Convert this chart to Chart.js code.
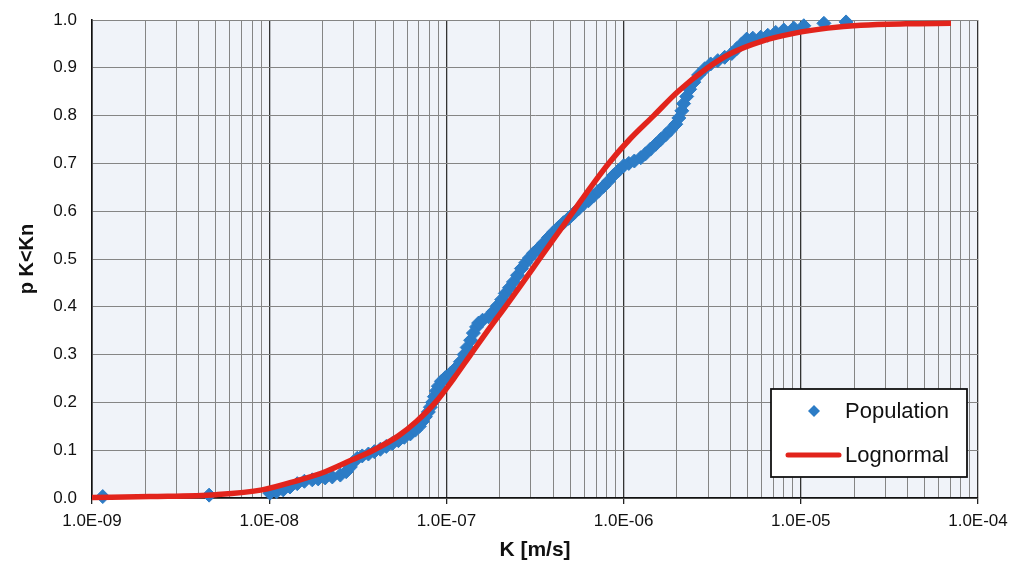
<!DOCTYPE html>
<html>
<head>
<meta charset="utf-8">
<script src="https://cdn.jsdelivr.net/npm/chart.js@4"></script>
<style>
  html, body { margin: 0; padding: 0; background: #fff; }
  #wrap { width: 1012px; height: 567px; }
</style>
</head>
<body>
<div id="wrap"><canvas id="cdf" width="1012" height="567"></canvas></div>
<script>
// ---------- Data ----------
// Population: sorted K [m/s] and cumulative probability
const popK = [
  1.15e-9, 4.58e-9, 1.01e-8, 1.10e-8, 1.20e-8, 1.31e-8, 1.44e-8, 1.58e-8, 1.75e-8, 1.89e-8,
  2.07e-8, 2.27e-8, 2.52e-8, 2.72e-8, 2.87e-8, 2.98e-8, 3.14e-8, 3.35e-8, 3.63e-8, 3.92e-8,
  4.24e-8, 4.58e-8, 4.95e-8, 5.36e-8, 5.79e-8, 6.26e-8, 6.68e-8, 7.04e-8, 7.32e-8, 7.61e-8,
  7.91e-8, 8.12e-8, 8.34e-8, 8.56e-8, 8.78e-8, 9.01e-8, 9.37e-8, 9.87e-8, 1.05e-7, 1.12e-7,
  1.20e-7, 1.26e-7, 1.31e-7, 1.37e-7, 1.42e-7, 1.48e-7, 1.52e-7, 1.60e-7, 1.73e-7, 1.84e-7,
  1.94e-7, 2.05e-7, 2.15e-7, 2.27e-7, 2.39e-7, 2.52e-7, 2.65e-7, 2.80e-7, 2.94e-7, 3.10e-7,
  3.31e-7, 3.53e-7, 3.77e-7, 4.02e-7, 4.29e-7, 4.58e-7, 4.89e-7, 5.22e-7, 5.57e-7, 5.94e-7,
  6.34e-7, 6.77e-7, 7.22e-7, 7.71e-7, 8.23e-7, 8.78e-7, 9.37e-7, 1.00e-6, 1.07e-6, 1.15e-6,
  1.25e-6, 1.33e-6, 1.42e-6, 1.52e-6, 1.62e-6, 1.73e-6, 1.84e-6, 1.97e-6, 2.05e-6, 2.13e-6,
  2.18e-6, 2.27e-6, 2.36e-6, 2.49e-6, 2.65e-6, 2.87e-6, 3.10e-6, 3.40e-6, 3.72e-6, 4.08e-6,
  4.35e-6, 4.64e-6, 4.95e-6, 5.36e-6, 5.94e-6, 6.51e-6, 7.22e-6, 8.02e-6, 9.13e-6, 1.04e-5,
  1.35e-5, 1.80e-5
];
const popP = [
  0.003, 0.006, 0.010, 0.013, 0.017, 0.023, 0.030, 0.035, 0.038, 0.040,
  0.042, 0.044, 0.048, 0.055, 0.065, 0.075, 0.083, 0.088, 0.092, 0.097,
  0.102, 0.108, 0.114, 0.120, 0.127, 0.134, 0.142, 0.150, 0.160, 0.170,
  0.180, 0.190, 0.200, 0.212, 0.224, 0.234, 0.244, 0.252, 0.260, 0.270,
  0.285, 0.300, 0.315, 0.330, 0.345, 0.358, 0.366, 0.372, 0.379, 0.390,
  0.402, 0.415, 0.428, 0.440, 0.452, 0.466, 0.480, 0.492, 0.502, 0.512,
  0.522, 0.533, 0.545, 0.556, 0.566, 0.576, 0.585, 0.595, 0.605, 0.615,
  0.622, 0.632, 0.642, 0.652, 0.663, 0.675, 0.685, 0.695, 0.700, 0.705,
  0.712, 0.720, 0.730, 0.740, 0.750, 0.760, 0.770, 0.782, 0.795, 0.810,
  0.825, 0.840, 0.855, 0.870, 0.885, 0.898, 0.908, 0.915, 0.922, 0.930,
  0.940, 0.950, 0.960, 0.962, 0.964, 0.968, 0.974, 0.979, 0.983, 0.988,
  0.993, 0.996
];

// Lognormal fit curve
const lognK = [
  1.0e-9, 2.13e-9, 5.02e-9, 9.13e-9, 1.40e-8, 2.07e-8, 2.94e-8, 3.87e-8, 5.36e-8, 6.77e-8,
  8.67e-8, 1.10e-7, 1.37e-7, 1.71e-7, 2.15e-7, 2.69e-7, 3.35e-7, 4.18e-7, 5.22e-7, 6.51e-7,
  8.23e-7, 1.08e-6, 1.48e-6, 2.02e-6, 2.98e-6, 4.02e-6, 5.94e-6, 9.13e-6, 1.42e-5, 2.18e-5,
  3.92e-5, 7.04e-5
];
const lognP = [
  0.001, 0.003, 0.007, 0.017, 0.035, 0.055, 0.080, 0.100, 0.130, 0.160,
  0.200, 0.250, 0.300, 0.350, 0.400, 0.450, 0.500, 0.550, 0.600, 0.650,
  0.700, 0.750, 0.800, 0.850, 0.900, 0.930, 0.955, 0.972, 0.983, 0.989,
  0.992, 0.993
];

// Axis ticks
const xMajorTicks = [1e-9, 1e-8, 1e-7, 1e-6, 1e-5, 1e-4];
const xTickLabels = ["1.0E-09", "1.0E-08", "1.0E-07", "1.0E-06", "1.0E-05", "1.0E-04"];
const xMinorSteps = [2, 3, 4, 5, 6, 7, 8, 9];

const BLUE = "#2c7cc6";
const RED = "#e2241c";
const FONT = "'Liberation Sans', Arial, sans-serif";

function majorIndex(v) {
  return xMajorTicks.findIndex(m => Math.abs(v / m - 1) < 1e-6);
}

const xGridValues = [];
xMajorTicks.forEach((m, i) => {
  xGridValues.push(m);
  if (i < xMajorTicks.length - 1) xMinorSteps.forEach(s => xGridValues.push(m * s));
});

// ---------- Plugins ----------
const plotBackground = {
  id: "plotBackground",
  beforeDraw(chart) {
    const { ctx, chartArea: a } = chart;
    ctx.save();
    ctx.fillStyle = "#f0f3f9";
    ctx.fillRect(a.left, a.top, a.right - a.left, a.bottom - a.top);
    ctx.restore();
  }
};

const boxLegend = {
  id: "boxLegend",
  afterDraw(chart) {
    const ctx = chart.ctx;
    const x = 771, y = 389, w = 196, h = 88;
    ctx.save();
    ctx.fillStyle = "#fff";
    ctx.fillRect(x, y, w, h);
    ctx.strokeStyle = "#111";
    ctx.lineWidth = 1.8;
    ctx.strokeRect(x, y, w, h);

    // diamond
    ctx.fillStyle = BLUE;
    ctx.beginPath();
    ctx.moveTo(814, 405); ctx.lineTo(820, 411); ctx.lineTo(814, 417); ctx.lineTo(808, 411);
    ctx.closePath();
    ctx.fill();

    // red line
    ctx.strokeStyle = RED;
    ctx.lineWidth = 5;
    ctx.lineCap = "round";
    ctx.beginPath();
    ctx.moveTo(788, 455); ctx.lineTo(839, 455);
    ctx.stroke();

    ctx.fillStyle = "#111";
    ctx.font = "22px " + FONT;
    ctx.textBaseline = "middle";
    ctx.textAlign = "left";
    ctx.fillText("Population", 845, 412);
    ctx.fillText("Lognormal", 845, 456);
    ctx.restore();
  }
};

// ---------- Chart ----------
new Chart(document.getElementById("cdf"), {
  type: "scatter",
  data: {
    datasets: [
      {
        label: "Lognormal",
        data: lognK.map((k, i) => ({ x: k, y: lognP[i] })),
        showLine: true,
        borderColor: RED,
        borderWidth: 5.5,
        pointRadius: 0,
        cubicInterpolationMode: "monotone",
        clip: 6,
        order: 0
      },
      {
        label: "Population",
        data: popK.map((k, i) => ({ x: k, y: popP[i] })),
        pointStyle: "rectRot",
        pointRadius: 7,
        borderWidth: 1,
        backgroundColor: BLUE,
        borderColor: BLUE,
        clip: 10,
        order: 1
      }
    ]
  },
  options: {
    responsive: false,
    animation: false,
    layout: { padding: { top: 20, right: 34, bottom: 0, left: 0 } },
    plugins: { legend: { display: false }, tooltip: { enabled: false } },
    scales: {
      x: {
        type: "logarithmic",
        min: 1e-9,
        max: 1e-4,
        afterBuildTicks(scale) {
          scale.ticks = xGridValues.map(v => ({ value: v }));
        },
        afterFit(scale) {
          scale.height = 69;
          scale.paddingLeft = 0;
          scale.paddingRight = 0;
        },
        ticks: {
          autoSkip: false,
          maxRotation: 0,
          padding: 7,
          color: "#111",
          font: { family: FONT, size: 17 },
          callback(value) {
            const i = majorIndex(value);
            return i >= 0 ? xTickLabels[i] : "";
          }
        },
        grid: {
          color: ctx => majorIndex(ctx.tick.value) >= 0 ? "#333" : "#858585",
          lineWidth: ctx => majorIndex(ctx.tick.value) >= 0 ? 1.3 : 1,
          tickLength: 6,
          tickColor: ctx => majorIndex(ctx.tick.value) >= 0 ? "#222" : "rgba(0,0,0,0)"
        },
        border: { color: "#111", width: 1.6 },
        title: {
          display: true,
          text: "K [m/s]",
          color: "#111",
          font: { family: FONT, size: 21, weight: "bold" },
          padding: { top: 0, bottom: 4 }
        }
      },
      y: {
        min: 0,
        max: 1,
        afterFit(scale) {
          scale.width = 92;
          scale.paddingTop = 0;
          scale.paddingBottom = 0;
        },
        ticks: {
          stepSize: 0.1,
          padding: 15,
          color: "#111",
          font: { family: FONT, size: 17 },
          callback: v => v.toFixed(1)
        },
        grid: { color: "#858585", lineWidth: 1, drawTicks: false },
        border: { color: "#111", width: 1.6 },
        title: {
          display: true,
          text: "p K<Kn",
          color: "#111",
          font: { family: FONT, size: 20, weight: "bold" },
          padding: { top: 15, bottom: 0 }
        }
      }
    }
  },
  plugins: [plotBackground, boxLegend]
});
</script>
</body>
</html>
